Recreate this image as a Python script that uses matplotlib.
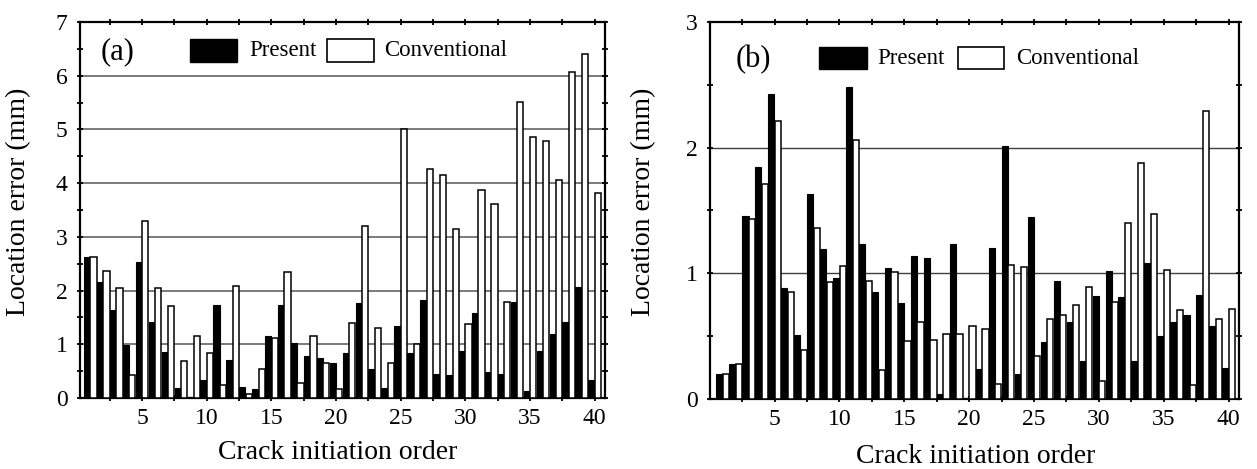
import matplotlib
matplotlib.use("Agg")
import matplotlib.pyplot as plt
from matplotlib.patches import Rectangle
from matplotlib.ticker import MultipleLocator
import numpy as np

plt.rcParams['font.family'] = ['Liberation Serif', 'DejaVu Serif']

orders = list(range(1, 41))
a_present = [2.63, 2.16, 1.63, 0.98, 2.53, 1.42, 0.86, 0.19, 0.02, 0.33,
             1.73, 0.70, 0.20, 0.17, 1.16, 1.73, 1.03, 0.78, 0.74, 0.65,
             0.84, 1.77, 0.54, 0.19, 1.34, 0.83, 1.82, 0.45, 0.42, 0.88,
             1.59, 0.48, 0.45, 1.79, 0.13, 0.88, 1.20, 1.41, 2.07, 0.33]
a_conv = [2.63, 2.37, 2.04, 0.42, 3.30, 2.04, 1.71, 0.68, 1.16, 0.83,
          0.25, 2.09, 0.08, 0.54, 1.12, 2.34, 0.27, 1.16, 0.66, 0.16,
          1.39, 3.20, 1.30, 0.65, 5.00, 1.00, 4.26, 4.15, 3.14, 1.38,
          3.87, 3.61, 1.78, 5.51, 4.86, 4.78, 4.05, 6.07, 6.41, 3.81]
b_present = [0.20, 0.28, 1.46, 1.85, 2.43, 0.88, 0.51, 1.63, 1.19, 0.96,
             2.48, 1.23, 0.85, 1.04, 0.76, 1.14, 1.12, 0.04, 1.23, 0.01,
             0.24, 1.20, 2.01, 0.20, 1.45, 0.45, 0.94, 0.61, 0.30, 0.82,
             1.02, 0.81, 0.30, 1.08, 0.50, 0.61, 0.67, 0.83, 0.58, 0.25]
b_conv = [0.20, 0.28, 1.43, 1.71, 2.21, 0.85, 0.39, 1.36, 0.93, 1.06,
          2.06, 0.94, 0.23, 1.01, 0.46, 0.61, 0.47, 0.52, 0.52, 0.58,
          0.56, 0.12, 1.07, 1.05, 0.34, 0.64, 0.67, 0.75, 0.89, 0.14,
          0.77, 1.40, 1.88, 1.47, 1.03, 0.71, 0.11, 2.29, 0.64, 0.72]
xtick_vals = [5, 10, 15, 20, 25, 30, 35, 40]
series_names = ["Present", "Conventional"]

W, H = 1257, 469
fig = plt.figure(figsize=(W / 100, H / 100), dpi=100)

def px_axes(x0, x1, ytop, ybot):
    return fig.add_axes([x0 / W, (H - ybot) / H, (x1 - x0) / W, (ybot - ytop) / H])

def draw_panel(ax, pres, conv, ymax, xlim, label, grid_color, grid_lw,
               leg, ylab_xy, xlab_xy):
    x = np.array(orders)
    w = 0.48
    ax.bar(x - 0.25, pres, width=w, color='black', edgecolor='black',
           linewidth=0.8, zorder=3)
    ax.bar(x + 0.25, conv, width=w, color='white', edgecolor='black',
           linewidth=1.1, zorder=3)
    ax.set_xlim(*xlim)
    ax.set_ylim(0, ymax)
    ax.set_yticks(range(0, ymax + 1))
    ax.yaxis.set_minor_locator(MultipleLocator(0.5))
    ax.set_xticks(xtick_vals)
    ax.xaxis.set_minor_locator(MultipleLocator(2.5))
    for yv in range(1, ymax):
        ax.axhline(yv, color=grid_color, lw=grid_lw, zorder=1)
    ax.tick_params(axis='both', which='both', direction='inout', top=True,
                   right=True, length=4, width=1.3, labelsize=17, pad=7)
    ax.tick_params(axis='x', which='major', pad=5)
    for s in ax.spines.values():
        s.set_linewidth(1.6)
    ax.set_ylabel("Location error (mm)", fontsize=20)
    ax.yaxis.set_label_coords(*ylab_xy)
    ax.set_xlabel("Crack initiation order", fontsize=20)
    ax.xaxis.set_label_coords(*xlab_xy)
    ax.xaxis.label.set_va('center')
    # legend-like annotation
    (tx, ty, bp, pt, wp, ct, py0, py1) = leg
    ax.text(tx, ty, label, transform=ax.transAxes, fontsize=22,
            ha='left', va='center', zorder=5)
    ax.add_patch(Rectangle((bp[0], py0), bp[1] - bp[0], py1 - py0,
                           transform=ax.transAxes, facecolor='black',
                           edgecolor='black', lw=1.0, zorder=5))
    ax.text(pt, (py0 + py1) / 2, series_names[0], transform=ax.transAxes,
            fontsize=16.5, ha='left', va='center', zorder=5)
    ax.add_patch(Rectangle((wp[0], py0), wp[1] - wp[0], py1 - py0,
                           transform=ax.transAxes, facecolor='white',
                           edgecolor='black', lw=1.2, zorder=5))
    ax.text(ct, (py0 + py1) / 2, series_names[1], transform=ax.transAxes,
            fontsize=16.5, ha='left', va='center', zorder=5)

axa = px_axes(80, 605, 22, 398)
draw_panel(axa, a_present, a_conv, 7, (0.2, 40.8), "(a)", '#707070', 1.3,
           (0.040, 0.921, (0.2095, 0.299), 0.322, (0.4705, 0.560), 0.580,
            0.893, 0.954),
           (-0.093, 0.522), (0.491, -0.145))

axb = px_axes(710, 1239, 22, 399)
draw_panel(axb, b_present, b_conv, 3, (0.02, 40.8), "(b)", '#404040', 1.0,
           (0.048, 0.899, (0.206, 0.296), 0.316, (0.468, 0.556), 0.578,
            0.8745, 0.933),
           (-0.101, 0.523), (0.502, -0.152))

fig.savefig("out.png", dpi=100)
